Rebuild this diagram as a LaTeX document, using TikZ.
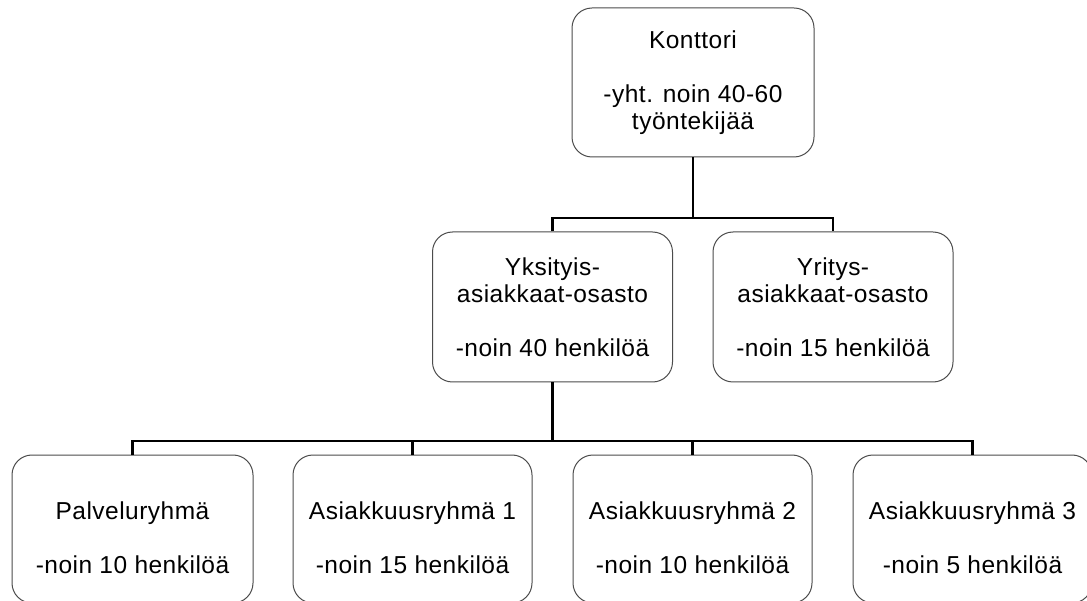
\documentclass[tikz,border=0pt]{standalone}
\usepackage{fontspec}
\setmainfont{Liberation Sans}[LetterSpace=2.0]
% invisible strut that pushes the text of a low unit downwards
\newcommand{\lowstrut}{\rule{0pt}{36pt}}
\begin{document}
\begin{tikzpicture}[x=1pt,y=-1pt,
  unit/.style={draw=black!70, line width=1pt, rounded corners=20pt, fill=white,
    align=center, inner sep=0pt, minimum width=240pt, minimum height=150pt,
    font=\fontsize{24.5}{27}\selectfont},
  lowunit/.style={unit, minimum width=239pt, minimum height=148pt},
  link/.style={draw=black, line width=2.8pt}]
  % page
  \fill[white] (0,0) rectangle (1087,601);
  \useasboundingbox (0,0) rectangle (1087,601);

  % units
  \node[unit, minimum width=242pt, minimum height=149pt] (office) at (693,82.5)
    {Konttori\\[27pt]-yht. noin 40-60\\työntekijää};
  \node[unit] (private) at (552.5,307)
    {Yksityis-\\asiakkaat-osasto\\[27pt]-noin 40 henkilöä};
  \node[unit] (business) at (833,307)
    {Yritys-\\asiakkaat-osasto\\[27pt]-noin 15 henkilöä};
  % bottom row, its lower edge on the page border
  \node[lowunit, minimum width=241pt] (service) at (132.5,529)
    {\lowstrut Palveluryhmä\\[27pt]-noin 10 henkilöä};
  \node[lowunit] (acc1) at (412.5,529)
    {\lowstrut Asiakkuusryhmä 1\\[27pt]-noin 15 henkilöä};
  \node[lowunit] (acc2) at (692.5,529)
    {\lowstrut Asiakkuusryhmä 2\\[27pt]-noin 10 henkilöä};
  \node[lowunit] (acc3) at (972.5,529)
    {\lowstrut Asiakkuusryhmä 3\\[27pt]-noin 5 henkilöä};

  % branch bars
  \coordinate (bar1) at (693,218);
  \coordinate (bar2) at (552.5,441);

  \draw[link] (office.south) -- (bar1);
  \draw[link] (private.north) |- (bar1) -| (business.north);

  \draw[link] (private.south) -- (bar2);
  \draw[link] (service.north) |- (bar2) -| (acc3.north);
  \draw[link] (acc1.north) -- (acc1.north |- bar2);
  \draw[link] (acc2.north) -- (acc2.north |- bar2);
\end{tikzpicture}
\end{document}
